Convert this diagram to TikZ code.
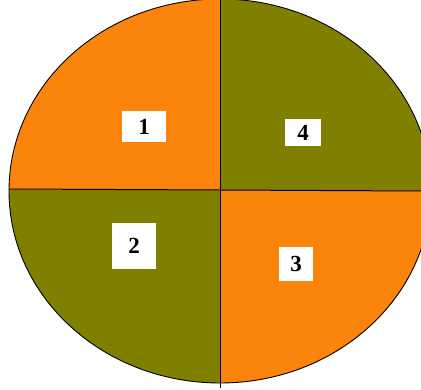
\documentclass[tikz,border=0pt]{standalone}
\usepackage{fontspec}
\setmainfont{Liberation Serif}
\begin{document}
\begin{tikzpicture}[x=1pt,y=-1pt,
  orangefill/.style={fill={rgb,255:red,250;green,132;blue,12}},
  olivefill/.style={fill={rgb,255:red,128;green,128;blue,0}},
  numbox/.style={fill=white,inner sep=0pt,font=\bfseries\fontsize{23}{23}\selectfont}]
\useasboundingbox (0,0) rectangle (421,390);
\coordinate (c) at (220,191);
\begin{scope}
  \clip (0,0) rectangle (421,390);
  \begin{scope}
    \clip (c) ellipse [x radius=211, y radius=192];
    \fill[orangefill] (0,0) rectangle (220,190);
    \fill[olivefill] (220,0) rectangle (421,190);
    \fill[olivefill] (0,190) rectangle (220,390);
    \fill[orangefill] (220,190) rectangle (421,390);
  \end{scope}
  \draw[line width=0.9pt] (c) ellipse [x radius=211, y radius=192];
  \coordinate (hl) at (9,189);
  \coordinate (hm) at (220,190);
  \coordinate (hr) at (421,191);
  \coordinate (vt) at (220,0);
  \coordinate (vb) at (220,388);
  \draw[line width=1pt] (hl) -- (hm) -- (hr);
  \draw[line width=1pt] (vt) -- (vb);
\end{scope}
\node[numbox,minimum width=44pt,minimum height=31pt] (n1) at (144,126.5) {1};
\node[numbox,minimum width=36pt,minimum height=27pt] (n4) at (303,132.5) {4};
\node[numbox,minimum width=44pt,minimum height=46pt] (n2) at (134,246) {2};
\node[numbox,minimum width=34pt,minimum height=34pt] (n3) at (296,264) {3};
\end{tikzpicture}
\end{document}
